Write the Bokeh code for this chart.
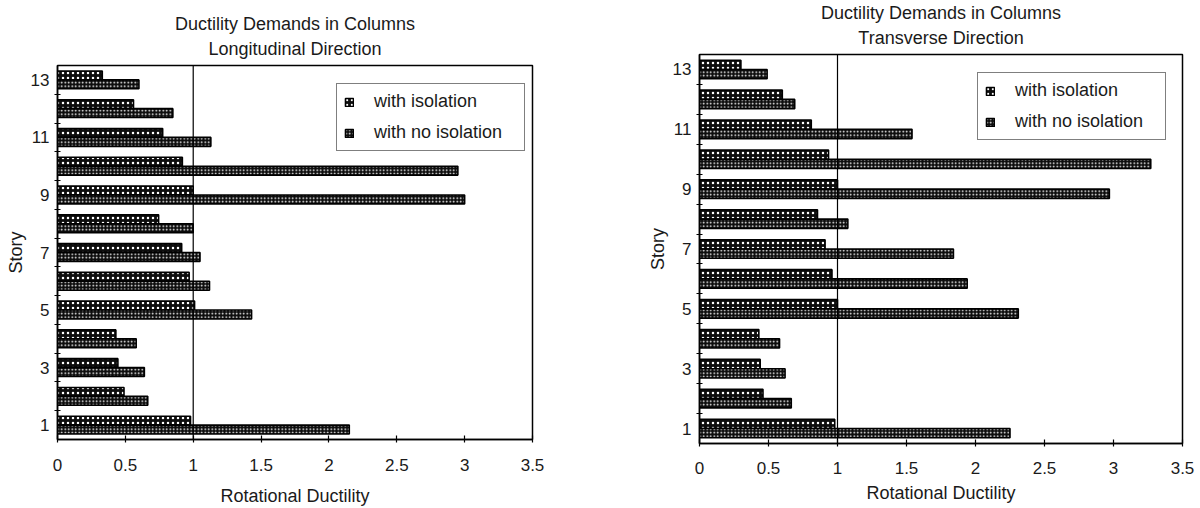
from bokeh.plotting import figure
from bokeh.models import (ColumnDataSource, FixedTicker, NumeralTickFormatter, Span,
                          Legend, LegendItem, Title, Range1d)
from bokeh.layouts import row, column
from bokeh.transform import dodge
from bokeh.embed import file_html
from bokeh.resources import INLINE

# ---------------- data ----------------
stories = list(range(1, 14))
story_labels = [1, 3, 5, 7, 9, 11, 13]
x_ticks = [0, 0.5, 1, 1.5, 2, 2.5, 3, 3.5]
reference_line = 1.0
series_names = ["with isolation", "with no isolation"]
title_line1 = "Ductility Demands in Columns"
subtitles = ["Longitudinal Direction", "Transverse Direction"]
x_title = "Rotational Ductility"
y_title = "Story"

# Longitudinal direction (stories 1..13)
long_iso = [0.98, 0.49, 0.445, 0.43, 1.01, 0.97, 0.915, 0.745, 1.0, 0.92, 0.775, 0.56, 0.33]
long_noiso = [2.15, 0.665, 0.64, 0.58, 1.43, 1.12, 1.05, 1.0, 3.0, 2.95, 1.13, 0.85, 0.60]
# Transverse direction (stories 1..13)
trans_iso = [0.98, 0.46, 0.44, 0.43, 1.0, 0.96, 0.91, 0.855, 1.0, 0.935, 0.81, 0.60, 0.30]
trans_noiso = [2.25, 0.665, 0.62, 0.58, 2.31, 1.94, 1.84, 1.075, 2.97, 3.27, 1.54, 0.69, 0.49]

FONT = "Liberation Sans"
TXT = "#1a1a1a"
FS = "18px"
FS_TICK = "17px"
TITLE_PROPS = Title.properties()


def set_standoff(t, v):
    if "standoff" not in TITLE_PROPS:
        return
    try:
        t.standoff = v
    except Exception:
        t.standoff = max(v, 0)


def make_chart(subtitle, iso, noiso, width, height, bl, br, bt, bb,
               legend_loc, tick_std, label_std, st_inner, st_outer):
    src = ColumnDataSource(dict(story=stories, iso=iso, noiso=noiso))
    p = figure(width=width, height=height,
               x_range=Range1d(x_ticks[0], x_ticks[-1]),
               y_range=Range1d(stories[0] - 0.5, stories[-1] + 0.5),
               output_backend="svg", toolbar_location=None, title=None,
               min_border_left=bl, min_border_right=br,
               min_border_top=bt, min_border_bottom=bb)
    p.background_fill_color = "white"
    p.border_fill_color = "white"
    p.outline_line_color = "black"
    p.outline_line_width = 1.5
    p.xgrid.visible = False
    p.ygrid.visible = False

    r_iso = p.hbar(y=dodge("story", 0.155), left=0, right="iso", height=0.31,
                   source=src, fill_color="#0d0d0d", line_color="black",
                   line_width=1.6, hatch_pattern="dot", hatch_color="white",
                   hatch_scale=5, hatch_weight=1.0)
    r_no = p.hbar(y=dodge("story", -0.155), left=0, right="noiso", height=0.31,
                  source=src, fill_color="#0d0d0d", line_color="black",
                  line_width=1.6, hatch_pattern="dot", hatch_color="white",
                  hatch_scale=3.5, hatch_weight=1.8)

    p.add_layout(Span(location=reference_line, dimension="height",
                      line_color="black", line_width=1.2))

    legend = Legend(items=[LegendItem(label=series_names[0], renderers=[r_iso]),
                           LegendItem(label=series_names[1], renderers=[r_no])],
                    location=legend_loc, padding=7, spacing=10, margin=0,
                    glyph_width=10, glyph_height=10, label_standoff=20,
                    label_width=143, label_text_font=FONT, label_text_font_size=FS,
                    label_text_color=TXT, border_line_color="black",
                    border_line_width=1.5, background_fill_color="white",
                    background_fill_alpha=1.0)
    p.add_layout(legend, "center")

    # x axis
    xa = p.xaxis[0]
    xa.ticker = FixedTicker(ticks=x_ticks)
    xa.formatter = NumeralTickFormatter(format="0.[0]")
    xa.major_tick_in = 4
    xa.major_tick_out = 3
    xa.minor_tick_line_color = None
    xa.axis_line_width = 1.5
    xa.major_tick_line_width = 1.2
    xa.major_label_standoff = tick_std
    xa.major_label_text_font = FONT
    xa.major_label_text_font_size = FS_TICK
    xa.major_label_text_color = TXT
    xa.axis_label = x_title
    xa.axis_label_standoff = label_std
    xa.axis_label_text_font = FONT
    xa.axis_label_text_font_size = FS
    xa.axis_label_text_font_style = "normal"
    xa.axis_label_text_color = TXT

    # y axis
    ya = p.yaxis[0]
    ya.ticker = FixedTicker(ticks=story_labels,
                            minor_ticks=[s + 0.5 for s in stories[:-1]])
    ya.major_tick_line_color = None
    ya.major_tick_in = 0
    ya.major_tick_out = 3
    ya.minor_tick_in = 3
    ya.minor_tick_out = 3
    ya.minor_tick_line_color = "black"
    ya.minor_tick_line_width = 1.2
    ya.axis_line_width = 1.5
    ya.major_label_standoff = 5
    ya.major_label_text_font = FONT
    ya.major_label_text_font_size = FS_TICK
    ya.major_label_text_color = TXT
    ya.axis_label = y_title
    ya.axis_label_standoff = 2
    ya.axis_label_text_font = FONT
    ya.axis_label_text_font_size = FS
    ya.axis_label_text_font_style = "normal"
    ya.axis_label_text_color = TXT

    # two-line title: inner title (subtitle) first, then the outer line
    kw = dict(align="center", text_font=FONT, text_font_size=FS,
              text_font_style="normal", text_color=TXT)
    t_inner = Title(text=subtitle, **kw)
    t_outer = Title(text=title_line1, **kw)
    set_standoff(t_inner, st_inner)
    set_standoff(t_outer, st_outer)
    p.add_layout(t_inner, "above")
    p.add_layout(t_outer, "above")
    return p


p1 = make_chart(subtitles[0], long_iso, long_noiso, 600, 508,
                57, 68, 65, 69, (279, 288), 16, 12, 14, -8)
p2 = make_chart(subtitles[1], trans_iso, trans_noiso, 600, 508,
                99, 18, 54, 65, (278, 303), 15, 6, 14, -8)

layout = row(column(p1), column(p2))
open("out.html", "w").write(file_html(layout, INLINE))
